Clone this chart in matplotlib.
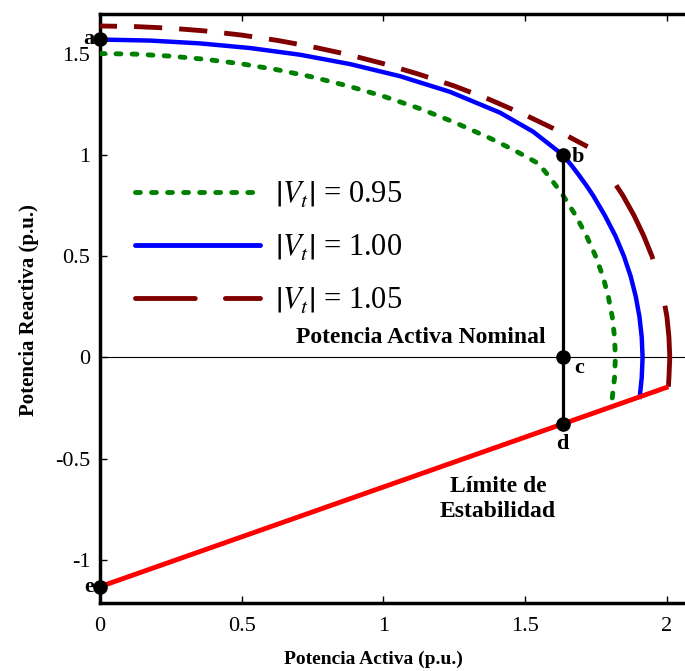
import matplotlib
matplotlib.use("Agg")
import matplotlib.pyplot as plt
from matplotlib.lines import Line2D

plt.rcParams['font.family'] = ['Liberation Serif', 'DejaVu Serif']
plt.rcParams['mathtext.fontset'] = 'stix'

# curvas de capabilidad (P, Q)
p_095 = [0, 0.125, 0.25, 0.375, 0.5, 0.625, 0.75, 0.875, 1.0, 1.125, 1.25, 1.375, 1.45, 1.5, 1.547,
         1.581, 1.608, 1.634, 1.679, 1.717, 1.749, 1.775, 1.794, 1.808, 1.816, 1.819, 1.816, 1.808, 1.803]
q_095 = [1.500, 1.497, 1.487, 1.471, 1.449, 1.420, 1.384, 1.340, 1.289, 1.230, 1.161, 1.083, 1.031, 0.994, 0.957,
         0.9, 0.85, 0.8, 0.7, 0.6, 0.5, 0.4, 0.3, 0.2, 0.1, 0.0, -0.1, -0.2, -0.245]

p_100 = [0, 0.176, 0.353, 0.53, 0.706, 0.882, 1.059, 1.235, 1.412, 1.529, 1.633,
         1.663, 1.690, 1.716, 1.740, 1.782, 1.819, 1.849, 1.873, 1.891, 1.904, 1.912, 1.915, 1.912, 1.905]
q_100 = [1.569, 1.564, 1.550, 1.527, 1.494, 1.448, 1.388, 1.311, 1.208, 1.114, 1.000,
         0.95, 0.9, 0.85, 0.8, 0.7, 0.6, 0.5, 0.4, 0.3, 0.2, 0.1, 0.0, -0.1, -0.195]

# |Vt| = 1.05: tramo superior (corriente de campo) y tramo de armadura
p_105_campo = [0, 0.125, 0.25, 0.375, 0.5, 0.625, 0.75, 0.875, 1.0, 1.125, 1.25, 1.375, 1.5, 1.6, 1.721]
q_105_campo = [1.636, 1.633, 1.625, 1.611, 1.591, 1.565, 1.533, 1.495, 1.450, 1.398, 1.340, 1.273, 1.197, 1.130, 1.040]
p_105_arm = [1.721, 1.772, 1.798, 1.845, 1.885, 1.919, 1.948, 1.971, 1.988, 2.001, 2.008, 2.011, 2.008, 2.006]
q_105_arm = [1.040, 0.95, 0.9, 0.8, 0.7, 0.6, 0.5, 0.4, 0.3, 0.2, 0.1, 0.0, -0.1, -0.145]

# limite de estabilidad
p_est = [0, 2.006]
q_est = [-1.132, -0.145]

# puntos a..e
pt_names = ['a', 'b', 'c', 'd', 'e']
pt_p = [0, 1.633, 1.633, 1.633, 0]
pt_q = [1.570, 1.000, 0.0, -0.329, -1.132]

leg_labels = [r'$\left|V_t\right|$ = 0.95', r'$\left|V_t\right|$ = 1.00', r'$\left|V_t\right|$ = 1.05']

fig = plt.figure(figsize=(6.85, 6.71), dpi=100)
ax = fig.add_axes([100/685, 0.1018, 586.5/685, 0.877])

ax.axhline(0, color='black', lw=0.8, zorder=1)
ax.plot(p_095, q_095, color='#008000', lw=3.5, dashes=(1.0, 2.3), dash_capstyle='round', zorder=3)
ax.plot(p_100, q_100, color='#0000ff', lw=3.2, zorder=3)
ax.plot(p_105_campo, q_105_campo, color='#800000', lw=3.5, linestyle=(2.3, (5.8, 3.5)), zorder=3)
ax.plot(p_105_arm, q_105_arm, color='#800000', lw=3.5, linestyle=(17.0, (17.0, 9.9)), zorder=3)
ax.plot(p_est, q_est, color='#ff0000', lw=3.5, solid_capstyle='butt', zorder=4)
ax.plot(pt_p[1:4], pt_q[1:4], color='black', lw=2.3, zorder=4)
ax.plot(pt_p, pt_q, 'o', color='black', ms=9.5, zorder=6, clip_on=False)

bold = dict(fontweight='bold', fontsize=16)
ax.text(pt_p[0] - 0.02, pt_q[0], pt_names[0], ha='right', va='center', **bold)
ax.text(pt_p[1] + 0.03, pt_q[1] - 0.01, pt_names[1], ha='left', va='center', **bold)
ax.text(pt_p[2] + 0.04, pt_q[2] - 0.05, pt_names[2], ha='left', va='center', **bold)
ax.text(pt_p[3], pt_q[3] - 0.1, pt_names[3], ha='center', va='center', **bold)
ax.text(pt_p[4] - 0.02, pt_q[4], pt_names[4], ha='right', va='center', **bold)

ax.text(1.133, 0.045, 'Potencia Activa Nominal', ha='center', va='bottom', fontweight='bold', fontsize=17)
ax.text(1.405, -0.70, 'Límite de\nEstabilidad', ha='center', va='center', fontweight='bold',
        fontsize=17, linespacing=1.25)

handles = [
    Line2D([], [], color='#008000', lw=3.5, dashes=(1.0, 2.3), dash_capstyle='round'),
    Line2D([], [], color='#0000ff', lw=3.5, solid_capstyle='round'),
    Line2D([], [], color='#800000', lw=3.5, dashes=(12.3, 6.2), dash_capstyle='round'),
]
ax.legend(handles, leg_labels, loc='upper left', bbox_to_anchor=(0.033, 0.745), frameon=False,
          fontsize=22, handlelength=4.1, handletextpad=0.5, labelspacing=0.75, borderpad=0)

ax.set_xlim(0, 2.07)
ax.set_ylim(-1.211, 1.694)
ax.set_xticks([0, 0.5, 1, 1.5, 2])
ax.set_xticklabels(['0', '0.5', '1', '1.5', '2'])
ax.set_yticks([-1, -0.5, 0, 0.5, 1, 1.5])
ax.set_yticklabels(['-1', '-0.5', '0', '0.5', '1', '1.5'])
ax.tick_params(direction='in', length=5, width=1, labelsize=16, pad=7, top=True, right=False)
ax.tick_params(axis='x', pad=10)
for s in ax.spines.values():
    s.set_linewidth(2.5)

ax.set_xlabel('Potencia Activa (p.u.)', fontweight='bold', fontsize=14)
ax.xaxis.set_label_coords((373 - 100) / 586.5, -0.0815)
ax.set_ylabel('Potencia Reactiva (p.u.)', fontweight='bold', fontsize=15)
ax.yaxis.set_label_coords(-61 / 586.5, (602.7 - 310) / 588.7)

fig.savefig('out.png', dpi=100)
